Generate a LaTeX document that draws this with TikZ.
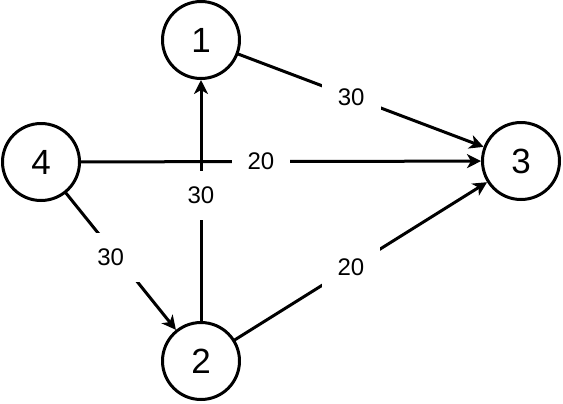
\documentclass[tikz,border=0pt]{standalone}
\usepackage{fontspec}
\setmainfont{Liberation Sans}
\usetikzlibrary{arrows.meta}
\tikzset{
    vertex/.style = {draw, circle, line width=1.5pt, minimum size=38.5pt, inner sep=0pt, font=\fontsize{17.5}{20}\selectfont},
    weight/.style = {fill=white, inner sep=8pt, font=\fontsize{12}{14}\selectfont},
    edge/.style = {line width=1.5pt, -{Stealth[length=7pt,width=7pt,inset=2pt]}}
}

\begin{document}
\begin{tikzpicture}[line cap=round,line join=round,x=0.5pt,y=-0.5pt]
\useasboundingbox (0,0) rectangle (563,403);
\node [vertex] (n1) at (201,40) {1};
\node [vertex] (n2) at (201,361) {2};
\node [vertex] (n3) at (521,161) {3};
\node [vertex] (n4) at (41,162) {4};

\draw [edge] (n1) -- node[weight, pos=0.46] {30} (n3);
\draw [edge] (n4) -- node[weight, pos=0.45] {20} (n3);
\draw [edge] (n2) -- node[weight, pos=0.52] {30} (n1);
\draw [edge] (n4) -- node[weight, pos=0.47, xshift=-3.5pt] {30} (n2);
\draw [edge] (n2) -- node[weight, pos=0.46] {20} (n3);
\end{tikzpicture}
\end{document}
